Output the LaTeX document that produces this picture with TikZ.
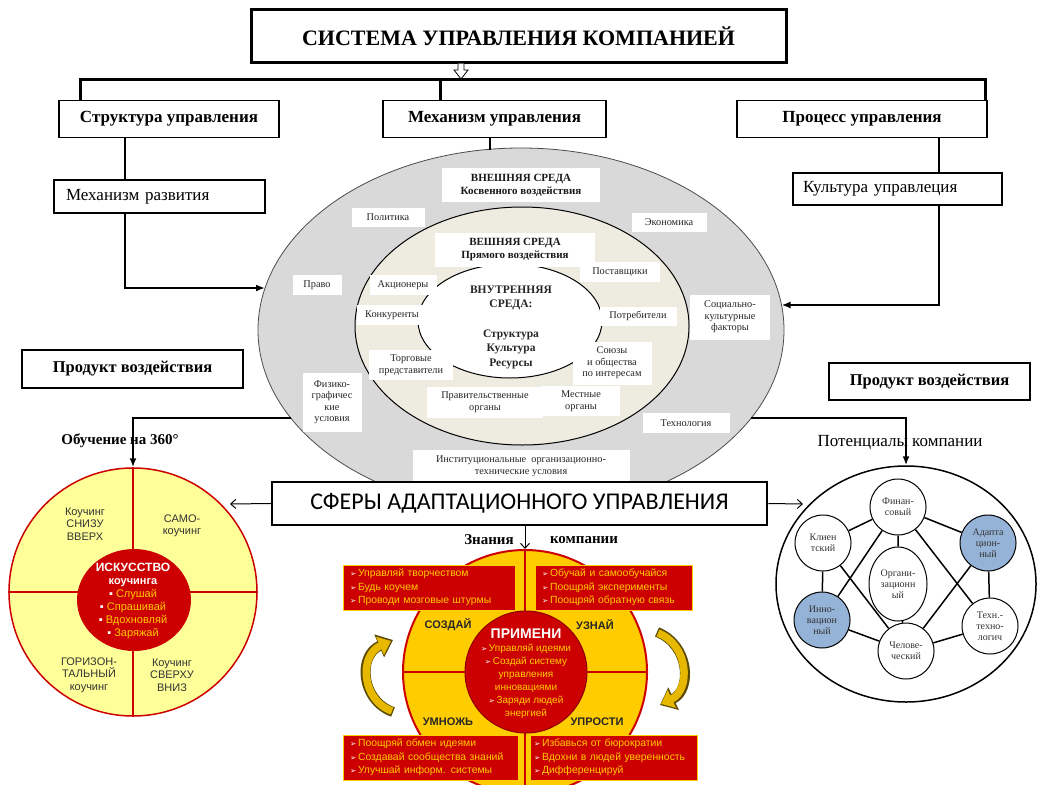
\documentclass[tikz,border=0pt]{standalone}
\usepackage{fontspec}
\setmainfont{Liberation Serif}
\setsansfont{Liberation Sans}
\newfontfamily\carl{Carlito}
\newfontfamily\dejavu{DejaVu Sans}
\usetikzlibrary{arrows.meta,shapes.geometric}
\definecolor{ellgray}{HTML}{D9D9D9}
\definecolor{beige}{HTML}{EEECE1}
\definecolor{pyellow}{HTML}{FFFF99}
\definecolor{dred}{HTML}{CC0000}
\definecolor{gold}{HTML}{FFCC00}
\definecolor{bulyel}{HTML}{FFCC00}
\definecolor{cblue}{HTML}{95B3D7}
\definecolor{arrgold}{HTML}{E6B800}
\definecolor{arrdark}{HTML}{5C4A00}
\newcommand{\fsz}[2]{\fontsize{#1}{#2}\selectfont}
\newcommand{\myar}{{\color{white}\dejavu\fontsize{7.5}{10}\selectfont ➢}\,}
\begin{document}
\begin{tikzpicture}[x=1pt,y=-1pt,
  conn/.style={line width=2.2},
  tbox/.style={draw, line width=1.4, fill=white, inner sep=0, font=\bfseries\fsz{17}{20}},
  nbox/.style={draw, line width=1.2, fill=white, inner ysep=0, align=left, font=\fsz{17}{20}},
  lbl/.style={fill=white, inner sep=0, align=center, text=black!85, font=\fsz{10.3}{11.5}},
  blbl/.style={fill=white, inner sep=0, align=center, text=black!90, font=\bfseries\fsz{11}{13}},
  tip/.style={-{Latex[length=9pt,width=7pt]}},
  barb/.style={-{Straight Barb[length=5pt,width=9pt]}},
  qtxt/.style={align=center, text=black!80, font=\sffamily\fsz{11}{12.5}},
  sc/.style={circle, draw, line width=1, fill=white, minimum size=56, inner sep=0, align=center, font=\fsz{10}{11}, text=black!80},
  rbox/.style={fill=dred, draw=gold, line width=1, inner ysep=0, text=bulyel, align=left, font=\sffamily\fsz{10.4}{13.5}},
  seg/.style={align=center, font=\sffamily\bfseries\fsz{11}{13}, text=black!85},
]
\useasboundingbox (0,0) rectangle (1040,784);
\fill[white] (0,0) rectangle (1040,784);

% ---------- top ----------
\node[draw, line width=3, fill=white, minimum width=535, minimum height=52, inner sep=0, font=\bfseries\fsz{22}{25}] (title) at (518.5,36) {СИСТЕМА УПРАВЛЕНИЯ КОМПАНИЕЙ};
\node[tbox, minimum width=220, minimum height=37] (su) at (169,119) {Структура управления};
\node[tbox, minimum width=223, minimum height=37] (mu) at (494.5,119) {Механизм управления};
\node[tbox, minimum width=250, minimum height=37] (pu) at (862,119) {Процесс управления};
\coordinate (hl) at (80,79);
\coordinate (hr) at (985,79);
\draw[line width=3] (80,0 |- su.north) -- (hl) -- (hr) -- (985,0 |- pu.north);
\draw[line width=3] (440,79) -- (440,0 |- mu.north);
\draw[line width=0.8, fill=white] (title.south -| 458,0) -- (458,70) -- (454,70) -- (461,79) -- (468,70) -- (464,70) -- (title.south -| 464,0);

\node[nbox, minimum height=33, text width=187, inner xsep=12] (mr) at (159.5,196.5) {Механизм развития};
\node[nbox, minimum height=32, text width=189, inner xsep=10] (ku) at (897.5,189) {Культура управлеция};

% ---------- ellipses ----------
\filldraw[fill=ellgray, draw=black!70, line width=0.8] (521,330) ellipse [x radius=263, y radius=182];
\filldraw[fill=beige, draw=black, line width=1] (522,326) ellipse [x radius=167, y radius=119];
\filldraw[fill=white, draw=black, line width=1] (510,321) ellipse [x radius=92, y radius=57];

\coordinate (eL) at (265,288);
\coordinate (eR) at (781.5,305);
\coordinate (eT) at (490,150);
\coordinate (eLL) at (291,418);
\coordinate (eRR) at (751,418);
\draw[conn] (125,0 |- su.south) -- (125,0 |- mr.north);
\draw[conn, tip] (125,0 |- mr.south) |- (eL);
\draw[conn] (939,0 |- pu.south) -- (939,0 |- ku.north);
\draw[conn, tip] (939,0 |- ku.south) |- (eR);
\draw[conn] (490,0 |- mu.south) -- (eT);

\node[blbl, minimum width=158, minimum height=34] (ext1) at (521,185) {ВНЕШНЯЯ СРЕДА\\Косвенного воздействия};
\node[lbl, minimum width=73, minimum height=19] (pol) at (388,217) {Политика};
\node[lbl, minimum width=75, minimum height=19] (eco) at (669,222) {Экономика};
\node[blbl, minimum width=160, minimum height=34] (ext2) at (515,250) {ВЕШНЯЯ СРЕДА\\Прямого воздействия};
\node[lbl, minimum width=80, minimum height=20] (post) at (620,272) {Поставщики};
\node[lbl, minimum width=49, minimum height=20] (prav) at (317,285) {Право};
\node[lbl, minimum width=67, minimum height=20] (akc) at (403,285) {Акционеры};
\node[lbl, minimum width=70, minimum height=20] (kon) at (392,315) {Конкуренты};
\node[lbl, minimum width=77, minimum height=19] (potr) at (638,316) {Потребители};
\node[lbl, minimum width=80, minimum height=45] (soc) at (730,317) {Социально-\\культурные\\факторы};
\node[lbl, minimum width=84, minimum height=30] (torg) at (411,365) {Торговые\\представители};
\node[lbl, minimum width=79, minimum height=43] (soyuz) at (612,363) {Союзы\\и общества\\по интересам};
\node[lbl, minimum width=59, minimum height=59] (fiz) at (332,402) {Физико-\\графичес\\кие\\условия};
\node[lbl, minimum width=116, minimum height=31] (gov) at (485,402) {Правительственные\\органы};
\node[lbl, minimum width=78, minimum height=30] (mest) at (581,401) {Местные\\органы};
\node[lbl, minimum width=87, minimum height=20] (tech) at (686,423) {Технология};
\node[lbl, minimum width=217, minimum height=32] (inst) at (521,466) {Институциональные\ \ организационно-\\технические условия};
\node[align=center, font=\bfseries\fsz{11.5}{14.5}, text=black!85] (inner) at (511,327) {ВНУТРЕННЯЯ\\СРЕДА:\\[15pt]Структура\\Культура\\Ресурсы};

% ---------- product boxes ----------
\node[tbox, minimum width=221, minimum height=38, font=\bfseries\fsz{16.5}{20}] (prod1) at (132.5,369) {Продукт\ воздействия};
\node[tbox, minimum width=201, minimum height=37, font=\bfseries\fsz{16.5}{20}] (prod2) at (929.5,381.5) {Продукт\ воздействия};

% ---------- side circles ----------
\node[font=\bfseries\fsz{15}{18}] (ob) at (120,441) {Обучение на 360°};
\node[font=\fsz{17}{20}] (pot) at (900,443) {Потенциалы компании};
\node[circle, draw=dred, line width=1.5, fill=pyellow, minimum size=248, inner sep=0] (lc) at (133,592) {};
\node[ellipse, draw=black, line width=1.5, fill=white, minimum width=260, minimum height=236, inner sep=0] (rc) at (906,584) {};
\draw[line width=2.5, tip] (eLL) -| (lc.north);
\draw[line width=2.5, tip] (eRR) -| (rc.north);

% left circle content
\draw[dred, line width=1.5] (lc.north) -- (lc.south);
\draw[dred, line width=1.5] (lc.west) -- (lc.east);
\node[ellipse, fill=dred, minimum width=114, minimum height=102, inner sep=0] (lic) at (134,600) {};
\node[qtxt] (q1) at (85,524) {Коучинг\\СНИЗУ\\ВВЕРХ};
\node[qtxt] (q2) at (182,526) {САМО-\\коучинг};
\node[qtxt] (q3) at (89,675) {ГОРИЗОН-\\ТАЛЬНЫЙ\\коучинг};
\node[qtxt] (q4) at (172,675) {Коучинг\\СВЕРХУ\\ВНИЗ};
\node[align=center, font=\sffamily\fsz{11}{13}, text=bulyel] (lict) at (133,601) {{\color{white}\bfseries\fsz{12}{15}ИСКУССТВО}\\{\color{white}\bfseries коучинга}\\{\color{white}▪} Слушай\\{\color{white}▪} Спрашивай\\{\color{white}▪} Вдохновляй\\{\color{white}▪} Заряжай};

% right circle content
\node[sc] (fin) at (898,507) {Финан-\\совый};
\node[sc] (kli) at (823,543) {Клиен\\тский};
\node[sc, fill=cblue] (ada) at (988,543) {Адапта\\цион-\\ный};
\node[sc, ellipse, minimum width=58, minimum height=74] (org) at (898,584) {Органи-\\зационн\\ый};
\node[sc, fill=cblue] (inn) at (822,620) {Инно-\\вацион\\ный};
\node[sc] (teh) at (990,626) {Техн.-\\техно-\\логич};
\node[sc] (che) at (906,651) {Челове-\\ческий};
\draw[line width=1.5] (fin) -- (kli) (fin) -- (ada) (fin) -- (org) (fin) -- (inn) (fin) -- (teh)
  (kli) -- (inn) (kli) -- (che) (ada) -- (teh) (ada) -- (che) (org) -- (che) (inn) -- (che) (teh) -- (che);

% ---------- spheres box ----------
\node[draw, line width=2.5, fill=white, minimum width=495, minimum height=43, inner sep=0, font=\carl\fsz{24}{28}] (sf) at (519.5,503.5) {СФЕРЫ АДАПТАЦИОННОГО УПРАВЛЕНИЯ};
\coordinate (la) at (230,504);
\coordinate (ra) at (803,504);
\coordinate (zn) at (525,549);
\draw[line width=1, barb] (sf.west) -- (la);
\draw[line width=1, barb] (sf.east) -- (ra);

% ---------- bottom circle ----------
\node[circle, draw=dred, line width=2, fill=gold, minimum size=244, inner sep=0] (bc) at (525,672) {};
\draw[dred, line width=2] (bc.north) -- (525,790);
\draw[dred, line width=2] (bc.west) -- (bc.east);
\node[circle, draw=dred!70!black, line width=1, fill=dred, minimum size=122, inner sep=0] (ic) at (526,672) {};
\draw[line width=1, barb] (525,0 |- sf.south) -- (zn);
\node[font=\bfseries\fsz{15}{18}] (zn1) at (489,540) {Знания};
\node[font=\bfseries\fsz{15}{18}] (zn2) at (584,540) {компании};

\node[rbox, minimum height=45, text width=158, inner xsep=7] (tl) at (429,587.5) {\myar Управляй творчеством\\\myar Будь коучем\\\myar Проводи мозговые штурмы};
\node[rbox, minimum height=45, text width=143, inner xsep=7] (tr) at (613.5,587.5) {\myar Обучай и самообучайся\\\myar Поощряй эксперименты\\\myar Поощряй обратную связь};
\node[rbox, minimum height=45, text width=161, inner xsep=7] (bl) at (430.5,757.5) {\myar Поощряй обмен идеями\\\myar Создавай сообщества знаний\\\myar Улучшай информ. системы};
\node[rbox, minimum height=45, text width=159, inner xsep=4] (br) at (613.5,757.5) {\myar Избавься от бюрократии\\\myar Вдохни в людей уверенность\\\myar Дифференцируй};

\node[seg] (s1) at (448,625) {СОЗДАЙ};
\node[seg] (s2) at (595,625) {УЗНАЙ};
\node[seg] (s3) at (448,722) {УМНОЖЬ};
\node[seg] (s4) at (597,722) {УПРОСТИ};
\node[align=center, font=\sffamily\fsz{10}{13}, text=bulyel] (ict) at (526,674) {{\color{white}\bfseries\fsz{14}{15}ПРИМЕНИ}\\\myar Управляй идеями\\\myar Создай систему\\управления\\инновациями\\\myar Заряди людей\\энергией};

% curved arrows
\draw[arrdark, line width=10, -{Triangle[length=15pt,width=24pt]}] (393,712) .. controls (360,700) and (358,655) .. (393,640);
\draw[arrgold, line width=7.5, -{Triangle[length=12pt,width=19pt]}] (392,711) .. controls (361,700) and (359,655) .. (391,641);
\draw[arrdark, line width=10, -{Triangle[length=15pt,width=24pt]}] (657,632) .. controls (690,645) and (692,690) .. (660,705);
\draw[arrgold, line width=7.5, -{Triangle[length=12pt,width=19pt]}] (658,633) .. controls (689,645) and (691,690) .. (661,704);
\end{tikzpicture}
\end{document}
